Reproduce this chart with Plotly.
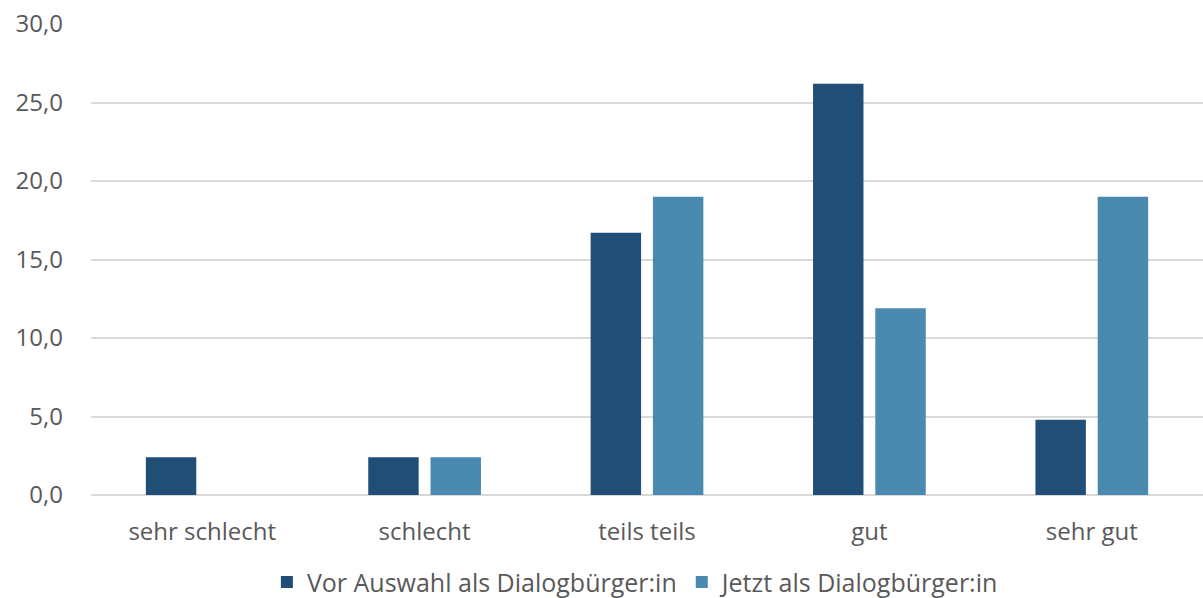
import plotly.graph_objects as go

categories = ["sehr schlecht", "schlecht", "teils teils", "gut", "sehr gut"]
series_names = ["Vor Auswahl als Dialogbürger:in", "Jetzt als Dialogbürger:in"]
vor_values = [2.4, 2.4, 16.7, 26.2, 4.8]
jetzt_values = [0.0, 2.4, 19.0, 11.9, 19.0]
y_ticks = [0, 5, 10, 15, 20, 25, 30]

dark = "#214E76"
light = "#4A89B0"

fig = go.Figure()
fig.add_trace(go.Bar(x=categories, y=vor_values, name=series_names[0],
                     marker=dict(color=dark, line=dict(width=0))))
fig.add_trace(go.Bar(x=categories, y=jetzt_values, name=series_names[1],
                     marker=dict(color=light, line=dict(width=0))))

fig.update_layout(
    width=1203, height=598,
    margin=dict(l=91, r=0, t=24, b=103, autoexpand=False),
    paper_bgcolor="white", plot_bgcolor="white",
    separators=",.",
    barmode="group", bargap=0.44, bargroupgap=0.19,
    font=dict(family="Open Sans", color="#595959", size=24),
    legend=dict(orientation="h", x=0.49, xanchor="center", y=-0.185, yanchor="middle",
                font=dict(family="Open Sans", size=25, color="#595959"),
                traceorder="normal", itemwidth=30),
    showlegend=True,
)
fig.update_yaxes(range=[0, 30], tickvals=y_ticks, tickformat=".1f", automargin=False,
                 gridcolor="#D9D9D9", gridwidth=2, zeroline=True, zerolinecolor="#D9D9D9",
                 zerolinewidth=2, showline=False, ticks="", ticklabelstandoff=27,
                 tickfont=dict(size=24))
fig.update_xaxes(showline=False, ticks="", ticklabelstandoff=20, automargin=False,
                 tickfont=dict(size=24))

fig.write_html("out.html")
